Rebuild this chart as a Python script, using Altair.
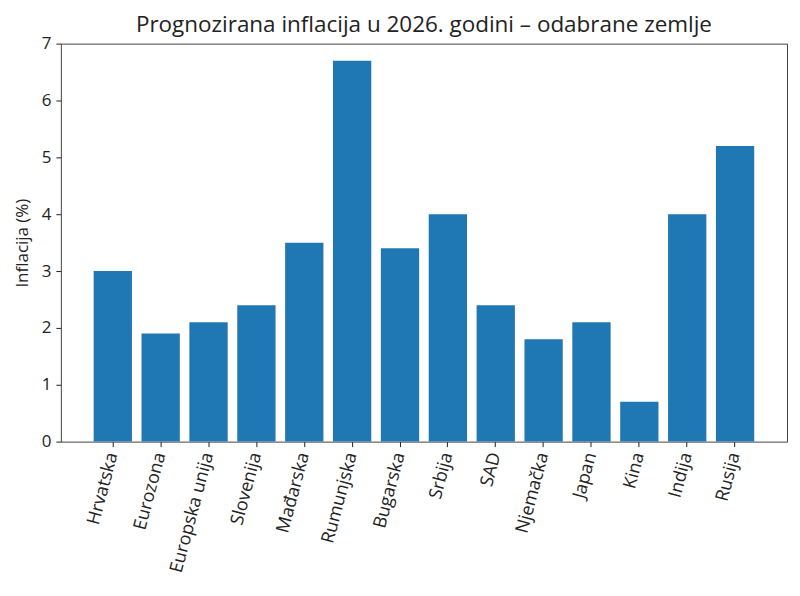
import altair as alt
import pandas as pd

countries = ["Hrvatska", "Eurozona", "Europska unija", "Slovenija", "Mađarska",
             "Rumunjska", "Bugarska", "Srbija", "SAD", "Njemačka", "Japan",
             "Kina", "Indija", "Rusija"]
inflation = [3.0, 1.9, 2.1, 2.4, 3.5, 6.7, 3.4, 4.0, 2.4, 1.8, 2.1, 0.7, 4.0, 5.2]

df = pd.DataFrame({"Zemlja": countries, "Inflacija": inflation})

FONT = "Open Sans"

chart = alt.Chart(df).mark_bar(color="#1f77b4").encode(
    x=alt.X("Zemlja:N", sort=countries, title=None,
            scale=alt.Scale(paddingInner=0.2, paddingOuter=0.685),
            axis=alt.Axis(labelAngle=285, labelAlign="right", labelBaseline="middle",
                          labelFontSize=18, labelColor="#222", labelFont=FONT,
                          tickColor="#222", labelPadding=6,
                          tickSize=5, domain=False)),
    y=alt.Y("Inflacija:Q", title="Inflacija (%)",
            scale=alt.Scale(domain=[0, 7], nice=False),
            axis=alt.Axis(values=list(range(0, 8)), grid=False, labelFontSize=17,
                          labelColor="#222", labelFont=FONT, titleFont=FONT,
                          titleFontSize=17, titleFontWeight="normal", titleColor="#222",
                          tickColor="#222", domain=False, tickSize=5, labelPadding=5,
                          titlePadding=10)),
).properties(
    width=728, height=399,
    title=alt.TitleParams("Prognozirana inflacija u 2026. godini – odabrane zemlje",
                          font=FONT, fontSize=22.5, fontWeight="normal", color="#222",
                          offset=-2),
).configure_view(stroke="#444", strokeWidth=1)

chart.save("out.html", embed_options={"renderer": "svg", "actions": False})
